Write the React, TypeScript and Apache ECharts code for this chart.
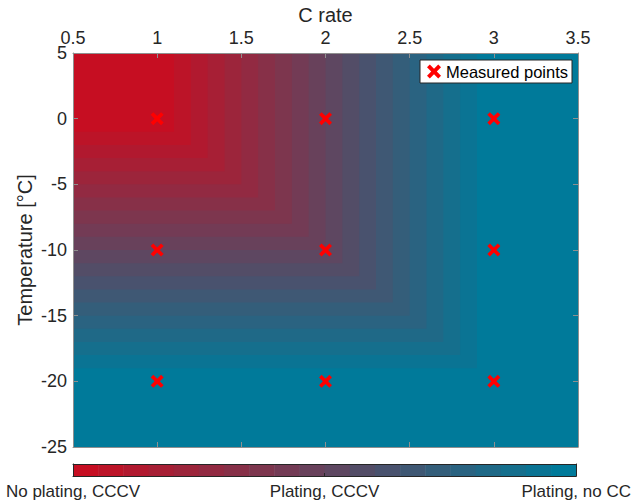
import React, { useEffect, useRef } from "react";
import * as echarts from "echarts";

// Nested plating bands (level 0 = no plating, level 19 = plating, no CC):
// each band covers from the top-left corner down/right to these edges.
const bandLevel = [0, 1, 2, 3, 4, 5, 6, 7, 8, 9, 10, 11, 12, 13, 14, 15, 16, 17, 18, 19];
const bandRightEdge = [1.1, 1.2, 1.3, 1.4, 1.5, 1.6, 1.7, 1.8, 1.9, 2.0, 2.1, 2.2, 2.3, 2.4, 2.5, 2.6, 2.7, 2.8, 2.9, 3.5];
const bandBottomEdge = [-1, -2, -3, -4, -5, -6, -7, -8, -9, -10, -11, -12, -13, -14, -15, -16, -17, -18, -19, -25];

const measuredCRate = [1, 2, 3, 1, 2, 3, 1, 2, 3];
const measuredTemp = [0, 0, 0, -10, -10, -10, -20, -20, -20];

const colorbarTickValues = [0, 10, 20];
const colorbarLabels = ["No plating, CCCV", "Plating, CCCV", "Plating, no CC"];

const RED = [198, 14, 34];
const TEAL = [0, 122, 154];
const palette = bandLevel.map((k) => {
  const t = k / (bandLevel.length - 1);
  const c = RED.map((r, i) => Math.round(r + (TEAL[i] - r) * t));
  return `rgb(${c[0]},${c[1]},${c[2]})`;
});

const XMARK = "path://M2,0 L5,3 L8,0 L10,2 L7,5 L10,8 L8,10 L5,7 L2,10 L0,8 L3,5 L0,2 Z";
const FONT = "'Liberation Sans', Arial, Helvetica, sans-serif";
const AXIS_COLOR = "#8f8f8f";
const TEXT_COLOR = "#262626";

export default function App() {
  const ref = useRef<HTMLDivElement>(null);
  useEffect(() => {
    if (!ref.current) return;
    const chart = echarts.init(ref.current, undefined, { renderer: "svg" });
    const lineOnly = (color: string) => ({
      axisLine: { show: true, onZero: false, lineStyle: { color, width: 1 } },
      axisLabel: { show: false },
      splitLine: { show: false },
      z: 10,
    });
    const option: any = {
      animation: false,
      textStyle: { fontFamily: FONT },
      grid: [
        { left: 73, right: 56, top: 53, height: 394 },
        { left: 73, right: 56, top: 464, height: 12 },
      ],
      legend: {
        data: ["Measured points"],
        right: 62,
        top: 60,
        icon: XMARK,
        itemWidth: 14,
        itemHeight: 14,
        itemGap: 5,
        backgroundColor: "#fff",
        borderColor: TEXT_COLOR,
        borderWidth: 1,
        borderRadius: 0,
        padding: [3, 4, 3, 7],
        textStyle: { fontSize: 16.5, color: "#000", fontFamily: FONT },
      },
      xAxis: [
        {
          type: "value",
          gridIndex: 0,
          position: "top",
          min: 0.5,
          max: 3.5,
          interval: 0.5,
          name: "C rate",
          nameLocation: "middle",
          nameGap: 28,
          nameMoveOverlap: false,
          nameTextStyle: { fontSize: 20, color: TEXT_COLOR },
          axisLine: { show: true, onZero: false, lineStyle: { color: AXIS_COLOR, width: 1 } },
          axisTick: { show: true, inside: true, length: 5, lineStyle: { color: AXIS_COLOR } },
          axisLabel: { fontSize: 18, color: TEXT_COLOR, margin: 6, showMinLabel: true, showMaxLabel: true },
          splitLine: { show: false },
          z: 10,
        },
        {
          type: "value",
          gridIndex: 0,
          position: "bottom",
          min: 0.5,
          max: 3.5,
          interval: 0.5,
          ...lineOnly(AXIS_COLOR),
          axisTick: { show: true, inside: true, length: 5, lineStyle: { color: AXIS_COLOR } },
        },
        {
          type: "value",
          gridIndex: 1,
          position: "bottom",
          min: 0,
          max: 20,
          interval: 10,
          axisLine: { show: true, onZero: false, lineStyle: { color: TEXT_COLOR, width: 1 } },
          axisTick: { show: true, inside: true, length: 3, lineStyle: { color: TEXT_COLOR } },
          axisLabel: {
            fontSize: 17,
            color: TEXT_COLOR,
            margin: 7,
            showMinLabel: true,
            showMaxLabel: true,
            formatter: (v: number) => {
              const i = colorbarTickValues.indexOf(v);
              return i >= 0 ? colorbarLabels[i] : "";
            },
          },
          splitLine: { show: false },
          z: 10,
        },
        {
          type: "value",
          gridIndex: 1,
          position: "top",
          min: 0,
          max: 20,
          ...lineOnly(TEXT_COLOR),
          axisTick: { show: false },
        },
      ],
      yAxis: [
        {
          type: "value",
          gridIndex: 0,
          position: "left",
          min: -25,
          max: 5,
          interval: 5,
          name: "Temperature [°C]",
          nameLocation: "middle",
          nameRotate: 90,
          nameGap: 38,
          nameMoveOverlap: false,
          nameTextStyle: { fontSize: 20, color: TEXT_COLOR },
          axisLine: { show: true, onZero: false, lineStyle: { color: AXIS_COLOR, width: 1 } },
          axisTick: { show: true, inside: true, length: 5, lineStyle: { color: AXIS_COLOR } },
          axisLabel: { fontSize: 18, color: TEXT_COLOR, margin: 6, showMinLabel: true, showMaxLabel: true },
          splitLine: { show: false },
          z: 10,
        },
        {
          type: "value",
          gridIndex: 0,
          position: "right",
          min: -25,
          max: 5,
          interval: 5,
          ...lineOnly(AXIS_COLOR),
          axisTick: { show: true, inside: true, length: 5, lineStyle: { color: AXIS_COLOR } },
        },
        {
          type: "value",
          gridIndex: 1,
          position: "left",
          min: 0,
          max: 1,
          ...lineOnly(TEXT_COLOR),
          axisTick: { show: false },
        },
        {
          type: "value",
          gridIndex: 1,
          position: "right",
          min: 0,
          max: 1,
          ...lineOnly(TEXT_COLOR),
          axisTick: { show: false },
        },
      ],
      series: [
        {
          type: "custom",
          name: "bands",
          xAxisIndex: 0,
          yAxisIndex: 0,
          silent: true,
          data: bandLevel
            .slice()
            .reverse()
            .map((k) => [bandRightEdge[k], bandBottomEdge[k], k]),
          renderItem: (params: any, api: any) => {
            const lvl = api.value(2);
            const p0 = api.coord([0.5, 5]);
            const p1 = api.coord([api.value(0), api.value(1)]);
            return {
              type: "rect",
              z2: 30 - lvl,
              shape: { x: p0[0], y: p0[1], width: p1[0] - p0[0], height: p1[1] - p0[1] },
              style: { fill: palette[lvl] },
            };
          },
          z: 2,
        },
        {
          type: "custom",
          name: "colorbar",
          xAxisIndex: 2,
          yAxisIndex: 2,
          silent: true,
          data: bandLevel.map((k) => [k, k + 1, k]),
          renderItem: (params: any, api: any) => {
            const lvl = api.value(2);
            const p0 = api.coord([api.value(0), 1]);
            const p1 = api.coord([api.value(1), 0]);
            return {
              type: "rect",
              shape: { x: p0[0], y: p0[1], width: p1[0] - p0[0] + 0.5, height: p1[1] - p0[1] },
              style: { fill: palette[lvl] },
            };
          },
          z: 2,
        },
        {
          type: "scatter",
          name: "Measured points",
          xAxisIndex: 0,
          yAxisIndex: 0,
          symbol: XMARK,
          symbolSize: 13,
          itemStyle: { color: "#ff0000", opacity: 1 },
          data: measuredCRate.map((c, i) => [c, measuredTemp[i]]),
          z: 5,
        },
      ],
    };
    chart.setOption(option);
    return () => chart.dispose();
  }, []);
  return (
    <div
      ref={ref}
      style={{ position: "absolute", left: 0, top: 0, width: 634, height: 504, background: "#fff" }}
    />
  );
}
